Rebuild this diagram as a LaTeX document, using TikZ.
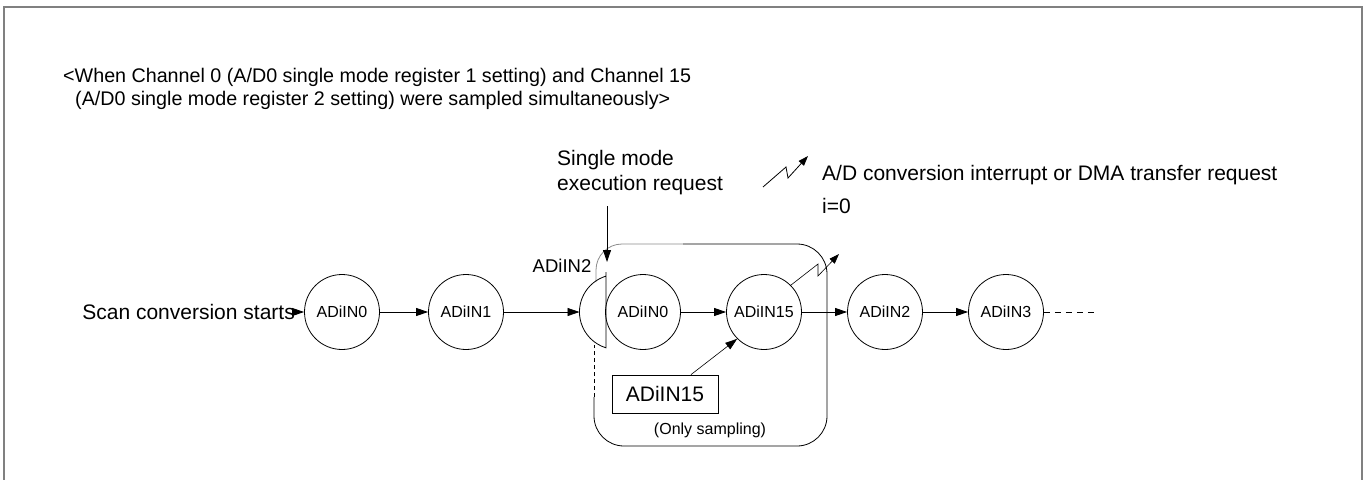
\documentclass[tikz,border=0pt]{standalone}
\usepackage{fontspec}
\setmainfont{Liberation Sans}
\usetikzlibrary{arrows.meta}
\begin{document}
\begin{tikzpicture}[x=1pt,y=-1pt,
  circ/.style={circle,draw,line width=0.8pt,minimum size=75pt,inner sep=0pt,font=\fontsize{16}{18}\selectfont},
  arr/.style={line width=0.8pt,-{Triangle[length=12pt,width=8pt]}},
  txt/.style={inner sep=0pt,font=\fontsize{21}{25}\selectfont},
  hdr/.style={inner sep=0pt,anchor=west,font=\fontsize{19.7}{24}\selectfont},
  frame/.style={draw=black!50,line width=2pt}]
\useasboundingbox (0,0) rectangle (1370,479);
% frame
\draw[frame] (4,485) -- (4,7) -- (1362,7) -- (1362,485);
% header
\node[hdr] (h1) at (63,77) {<When Channel 0 (A/D0 single mode register 1 setting) and Channel 15};
\node[hdr] (h2) at (75,100) {(A/D0 single mode register 2 setting) were sampled simultaneously>};
% single mode request label
\node[txt,anchor=north west,align=left] (sm) at (557,150) {Single mode\\execution request};
% legend
\coordinate (lg1) at (763,187);
\coordinate (lg2) at (808,156);
\draw[line width=0.8pt,-{Triangle[length=10pt,width=7pt]}] (lg1) -- (786,167) -- (788,178) -- (lg2);
\node[txt,anchor=west] (lgt) at (822,175) {A/D conversion interrupt or DMA transfer request};
\node[txt,anchor=west] (ieq) at (822,206) {i=0};
% rounded rectangle (single mode region)
\draw[line width=0.8pt,rounded corners=30pt] (683,244) -- (827,244) -- (827,446) -- (594,446) -- (594,397);
\draw[line width=0.8pt,dash pattern=on 4pt off 3pt] (594,397) -- (594,345);
\draw[line width=0.8pt,black!45,rounded corners=26pt] (596,282) -- (596,244) -- (683,244);
% circles
\node[txt,anchor=east] (scan) at (295,312) {Scan conversion starts};
\node[circ] (a0) at (342,312) {ADiIN0};
\node[circ] (a1) at (466,312) {ADiIN1};
% half circle (interrupted ADiIN2)
\coordinate (hcw) at (579.5,312);
\coordinate (hct) at (607,262);
\draw[line width=0.8pt] (606,276.1) arc[start angle=253,end angle=107,radius=37.5] -- (606,272) -- cycle;
\node[inner sep=0pt,font=\fontsize{18.5}{22}\selectfont] (hcl) at (562,266) {ADiIN2};
\node[circ] (b0) at (643,312) {ADiIN0};
\node[circ] (b15) at (764,312) {ADiIN15};
\node[circ] (b2) at (885,312) {ADiIN2};
\node[circ] (b3) at (1006,312) {ADiIN3};
\coordinate (dend) at (1098,312);
% connectors
\draw[arr] (scan.east) -- (a0.west);
\draw[arr] (a0.east) -- (a1.west);
\draw[arr] (a1.east) -- (hcw);
\draw[arr] (b0.east) -- (b15.west);
\draw[arr] (b15.east) -- (b2.west);
\draw[arr] (b2.east) -- (b3.west);
\draw[line width=0.8pt,dash pattern=on 6pt off 5pt] (b3.east) -- (dend);
\coordinate (smb) at (607,206);
\draw[arr] (smb) -- (hct);
% sampling box
\node[draw,line width=0.8pt,minimum width=106pt,minimum height=38pt,inner sep=0pt,font=\fontsize{21}{25}\selectfont] (bx) at (665,394) {ADiIN15};
\draw[arr,line width=0.6pt] ([xshift=26pt]bx.north) -- (b15.225);
\node[inner sep=0pt,font=\fontsize{16}{19}\selectfont] (only) at (710,430) {(Only sampling)};
% interrupt from ADiIN15
\coordinate (irq) at (839,254);
\draw[line width=0.6pt,-{Triangle[length=10pt,width=7pt]}] (b15.45) -- (818,264) -- (818,276) -- (irq);
\end{tikzpicture}
\end{document}
